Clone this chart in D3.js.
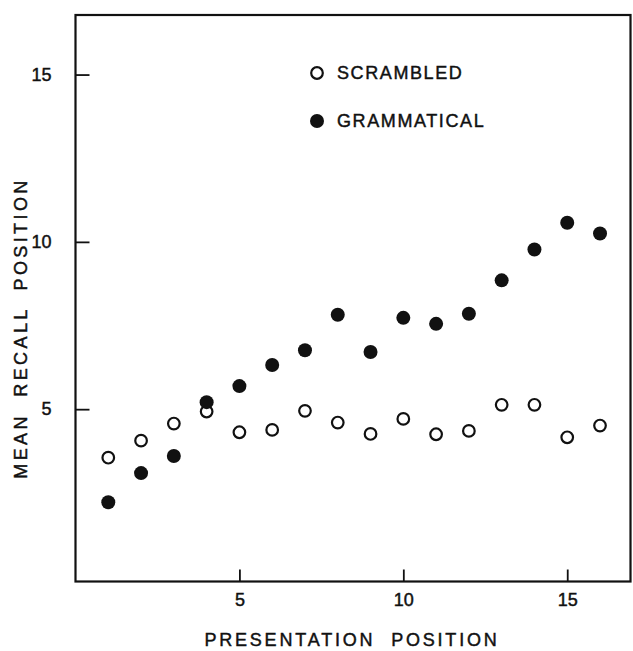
<!DOCTYPE html>
<html>
<head>
<meta charset="utf-8">
<script src="https://cdn.jsdelivr.net/npm/d3@7"></script>
<style>
    body { margin: 0; background: #fff; }
    text { font-family: "Liberation Sans", Arial, sans-serif; fill: #111; stroke: #111; stroke-width: 0.45px; }
</style>
</head>
<body>
<script>
// presentation position vs mean recall position

//data
var positions = [1, 2, 3, 4, 5, 6, 7, 8, 9, 10, 11, 12, 13, 14, 15, 16];
var scrambled = [3.55, 4.06, 4.57, 4.93, 4.31, 4.38, 4.95, 4.60, 4.26, 4.71, 4.25, 4.35, 5.13, 5.13, 4.16, 4.51];
var grammatical = [2.22, 3.09, 3.60, 5.21, 5.69, 6.32, 6.76, 7.82, 6.71, 7.73, 7.55, 7.85, 8.85, 9.77, 10.57, 10.25];
var xTicks = [5, 10, 15];
var yTicks = [5, 10, 15];
var legendItems = ["SCRAMBLED", "GRAMMATICAL"];

window.onload = drawChart();

function drawChart(){
    var width = 633,
        height = 651;

    var svg = d3.select("body")
        .append("svg")
        .attr("width", width)
        .attr("height", height);

    //scales (frame runs a little past the domain on top and right)
    var x = d3.scaleLinear()
        .domain([0, 16.93])
        .range([75.5, 630.5]);

    var y = d3.scaleLinear()
        .domain([-0.15, 16.78])
        .range([581.5, 15]);

    //axes, ticks point inward
    var xAxis = d3.axisBottom(x)
        .tickValues(xTicks)
        .tickSizeInner(-12)
        .tickSizeOuter(0)
        .tickPadding(12);

    var yAxis = d3.axisLeft(y)
        .tickValues(yTicks)
        .tickSizeInner(-14)
        .tickSizeOuter(0)
        .tickPadding(24);

    var gx = svg.append("g")
        .attr("transform", "translate(0," + y(-0.15) + ")")
        .call(xAxis);

    var gy = svg.append("g")
        .attr("transform", "translate(" + x(0) + ",0)")
        .call(yAxis);

    [gx, gy].forEach(function(g){
        g.select(".domain").remove();
        g.selectAll("line").attr("stroke", "#111").attr("stroke-width", 1.8);
        g.selectAll("text")
            .attr("font-size", 18)
            .attr("font-family", "Liberation Sans, Arial, sans-serif")
            .attr("fill", "#111");
    });

    //frame
    svg.append("rect")
        .attr("x", x(0))
        .attr("y", y(16.78))
        .attr("width", x(16.93) - x(0))
        .attr("height", y(-0.15) - y(16.78))
        .attr("fill", "none")
        .attr("stroke", "#111")
        .attr("stroke-width", 2.2);

    //scrambled points, open circles
    svg.selectAll(".scr")
        .data(positions)
        .enter()
        .append("circle")
        .attr("class", "scr")
        .attr("cx", function(d){ return x(d); })
        .attr("cy", function(d, i){ return y(scrambled[i]); })
        .attr("r", 5.8)
        .attr("fill", "#fff")
        .attr("stroke", "#111")
        .attr("stroke-width", 2.2);

    //grammatical points, filled
    svg.selectAll(".gram")
        .data(positions)
        .enter()
        .append("circle")
        .attr("class", "gram")
        .attr("cx", function(d){ return x(d); })
        .attr("cy", function(d, i){ return y(grammatical[i]); })
        .attr("r", 7)
        .attr("fill", "#111");

    //legend
    var legend = svg.selectAll(".legend")
        .data(legendItems)
        .enter()
        .append("g")
        .attr("class", "legend")
        .attr("transform", function(d, i){ return "translate(317," + (73 + i * 48) + ")"; });

    legend.append("circle")
        .attr("r", function(d, i){ return i ? 7 : 5.8; })
        .attr("fill", function(d, i){ return i ? "#111" : "#fff"; })
        .attr("stroke", "#111")
        .attr("stroke-width", function(d, i){ return i ? 0 : 2.2; });

    legend.append("text")
        .attr("x", 20)
        .attr("dy", "0.36em")
        .attr("font-size", 18)
        .attr("letter-spacing", 1.6)
        .text(function(d){ return d; });

    //axis titles
    svg.append("text")
        .attr("x", 352)
        .attr("y", 646)
        .attr("text-anchor", "middle")
        .attr("font-size", 18)
        .attr("letter-spacing", 2.8)
        .attr("word-spacing", 8)
        .text("PRESENTATION POSITION");

    svg.append("text")
        .attr("transform", "translate(27,328) rotate(-90)")
        .attr("text-anchor", "middle")
        .attr("font-size", 18)
        .attr("letter-spacing", 3.4)
        .attr("word-spacing", 8)
        .text("MEAN RECALL POSITION");
};
</script>
</body>
</html>
